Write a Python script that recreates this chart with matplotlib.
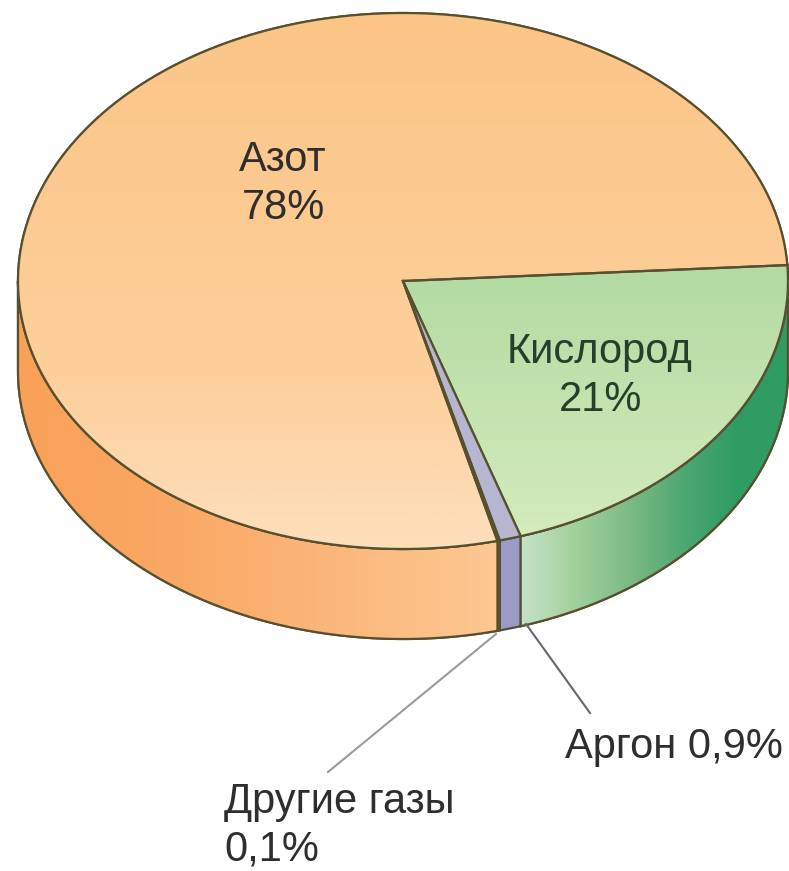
import numpy as np
import matplotlib
matplotlib.use("Agg")
import matplotlib.pyplot as plt
from matplotlib.colors import LinearSegmentedColormap as LSC
from matplotlib.patches import Polygon

plt.rcParams['font.family'] = ['Liberation Sans', 'DejaVu Sans']

# Data
gases = ["Кислород", "Аргон", "Другие газы", "Азот"]
shares = [21, 0.9, 0.1, 78]
start_angle = 3.4

# Geometry in pixels of the reference
W, H = 789, 871
CX, CY, RX, RY, DEPTH = 403, 281, 385, 268, 90

def px(x, y):
    return (x - CX) / RX, (CY - y) / RY

fig = plt.figure(figsize=(W / 100, H / 100), dpi=100, facecolor='white')
ax = fig.add_axes([0, 0, 1, 1])

EDGE = '#57502f'
top_maps = [
    LSC.from_list('o', ['#a6d5a0', '#b4dba4', '#d6ecbc']),
    None, None,
    LSC.from_list('n', ['#fbc588', '#fcca90', '#fdcf9b', '#fddfbc']),
]
side_maps = [
    LSC.from_list('os', ['#c6e2c8', '#a2d19c', '#7dbb85', '#4fa872', '#2f9c62', '#2f9c62']),
    None, None,
    LSC.from_list('ns', ['#f9a158', '#faa865', '#fbb77c', '#fdc892']),
]
top_solid = ['#a6d5a0', '#b6b6d0', '#6a6a80', '#fcca90']
side_solid = ['#a6d3a0', '#9b9bc8', '#4a4a66', '#fbb77c']

wedges, _ = ax.pie(shares, startangle=start_angle, counterclock=False, radius=1,
                   center=(0, 0), colors=top_solid, frame=False,
                   wedgeprops=dict(edgecolor=EDGE, linewidth=1.6, zorder=3))

# Side wall, drawn from the same angles as the slices
depth = DEPTH / RY
t_top = start_angle
for i, s in enumerate(shares):
    t_end = t_top - s * 3.6
    a, b = max(t_end, -180.0), min(t_top, 0.0)
    t_top = t_end
    if a >= b:
        continue
    t = np.radians(np.linspace(a, b, 200))
    xs, ys = np.cos(t), np.sin(t)
    verts = np.r_[np.c_[xs, ys], np.c_[xs[::-1], ys[::-1] - depth]]
    poly = Polygon(verts, closed=True, facecolor=side_solid[i], edgecolor=EDGE,
                   linewidth=1.6, zorder=2)
    ax.add_patch(poly)
    if side_maps[i] is not None:
        im = ax.imshow(np.linspace(0, 1, 256)[None, :], cmap=side_maps[i], aspect='auto',
                       extent=(xs.min(), xs.max(), -2, 2), zorder=2.1, interpolation='bilinear')
        im.set_clip_path(poly)
        outline = Polygon(verts, closed=True, fill=False, edgecolor=EDGE, linewidth=1.6, zorder=2.2)
        ax.add_patch(outline)

# Gradients on the top face
for i, w in enumerate(wedges):
    if top_maps[i] is None:
        continue
    im = ax.imshow(np.linspace(0, 1, 256)[:, None], cmap=top_maps[i], aspect='auto', origin='upper',
                   extent=(-1, 1, -1, 1), zorder=3.1, interpolation='bilinear')
    im.set_clip_path(w)
    t = np.radians(np.linspace(w.theta1, w.theta2, 400))
    ox = np.r_[0, np.cos(t), 0]
    oy = np.r_[0, np.sin(t), 0]
    ax.plot(ox, oy, color=EDGE, lw=1.6, zorder=3.2, solid_joinstyle='miter')

# Argon and other-gas wedges above the gradients
for w in wedges[1:3]:
    w.set_zorder(3.3)

# Leader lines
for p0, p1, c in [((496, 634), (328, 772), '#9a9b9d'), ((526, 624), (590, 713), '#66676a')]:
    a0, a1 = px(*p0), px(*p1)
    ax.plot([a0[0], a1[0]], [a0[1], a1[1]], color=c, lw=1.5, zorder=4)

# Labels
TXT = '#2e2e2e'
FS = 30
def label(x, y, s, ha='center', color=TXT):
    ax.text(*px(x, y), s, ha=ha, va='center', fontsize=FS, color=color, zorder=5)

label(283, 160, "Азот")
label(283, 208, "78%")
label(600, 352, "Кислород", color='#24402c')
label(601, 400, "21%", color='#24402c')
label(565, 747, "Аргон 0,9%", ha='left')
label(224, 802, "Другие газы", ha='left')
label(224, 849, "0,1%", ha='left')

ax.set_aspect('auto')
ax.set_xlim(px(0, 0)[0], px(W, 0)[0])
ax.set_ylim(px(0, H)[1], px(0, 0)[1])
ax.axis('off')
fig.savefig('out.png', dpi=100, facecolor='white')
